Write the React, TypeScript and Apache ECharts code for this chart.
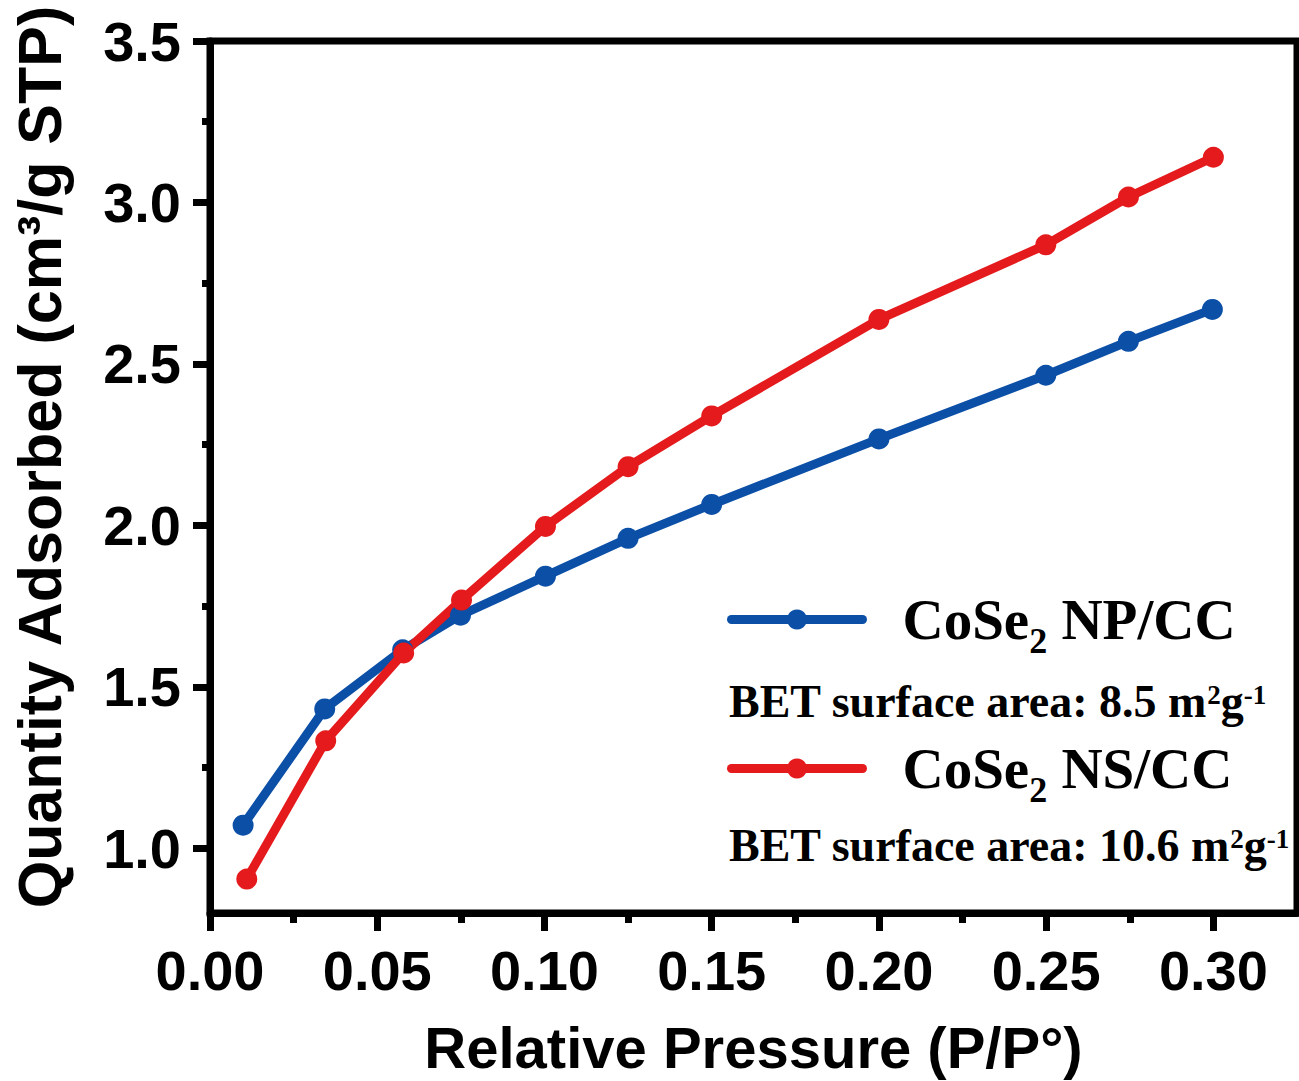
import React, { useEffect, useRef } from "react";
import * as echarts from "echarts";

const seriesNames = ["CoSe2 NP/CC", "CoSe2 NS/CC"];
const npX = [0.0099, 0.0343, 0.0576, 0.0749, 0.1003, 0.125, 0.15, 0.2, 0.2499, 0.2746, 0.2997];
const npY = [1.072, 1.432, 1.615, 1.722, 1.843, 1.960, 2.065, 2.268, 2.465, 2.570, 2.669];
const nsX = [0.011, 0.0346, 0.0579, 0.0752, 0.1003, 0.125, 0.15, 0.2, 0.2499, 0.2746, 0.3];
const nsY = [0.905, 1.333, 1.605, 1.769, 1.997, 2.182, 2.339, 2.638, 2.869, 3.017, 3.140];
const xMajorTicks = [0, 0.05, 0.1, 0.15, 0.2, 0.25, 0.3];
const xMinorTicks = [0.025, 0.075, 0.125, 0.175, 0.225, 0.275];
const yMajorTicks = [1.0, 1.5, 2.0, 2.5, 3.0, 3.5];
const yMinorTicks = [1.25, 1.75, 2.25, 2.75, 3.25];
const betTexts = ["8.5", "10.6"];
const colors = ["#0b4fa7", "#e41a1c"];

const SANS = "Liberation Sans, Arial, sans-serif";
const SERIF = "Liberation Serif, Times New Roman, serif";

export default function App() {
  const ref = useRef<HTMLDivElement>(null);
  useEffect(() => {
    document.body.style.margin = "0";
    const chart = echarts.init(ref.current!, undefined, { renderer: "svg" });
    const axisLine = { show: true, lineStyle: { color: "#000", width: 7 } };
    const labelFont = { fontFamily: SANS, fontWeight: "bold" as const, fontSize: 56, color: "#000" };
    const legendRich = {
      g: { width: 35, fontSize: 20 },
      m: { fontFamily: SERIF, fontWeight: "bold", fontSize: 57, lineHeight: 70, color: "#000" },
      s: { fontFamily: SERIF, fontWeight: "bold", fontSize: 36, lineHeight: 27, height: 27, verticalAlign: "bottom", color: "#000" },
    };
    const betRich = {
      t: { fontFamily: SERIF, fontWeight: "bold", fontSize: 46, lineHeight: 50, fill: "#000" },
      p: { fontFamily: SERIF, fontWeight: "bold", fontSize: 27, lineHeight: 38, height: 38, verticalAlign: "top", fill: "#000" },
    };
    const option: any = {
      animation: false,
      backgroundColor: "#ffffff",
      grid: {
        left: 210, right: 2, top: 41, bottom: 166,
        show: true, borderColor: "#000", borderWidth: 7, backgroundColor: "transparent",
      },
      xAxis: [
        {
          type: "value", min: 0, max: 0.325, position: "bottom",
          name: "Relative Pressure (P/P°)", nameLocation: "middle", nameGap: 105,
          nameTextStyle: { fontFamily: SANS, fontWeight: "bold", fontSize: 58, color: "#000" },
          axisLine,
          axisTick: { show: true, customValues: xMajorTicks, length: 18, lineStyle: { color: "#000", width: 7 } },
          axisLabel: { ...labelFont, customValues: xMajorTicks, margin: 29, formatter: (v: number) => v.toFixed(2) },
          splitLine: { show: false },
        },
        {
          type: "value", min: 0, max: 0.325, position: "bottom",
          axisLine: { show: false },
          axisTick: { show: true, customValues: xMinorTicks, length: 10, lineStyle: { color: "#000", width: 7 } },
          axisLabel: { show: false },
          splitLine: { show: false },
        },
      ],
      yAxis: [
        {
          type: "value", min: 0.8, max: 3.5, position: "left",
          name: "Quantity Adsorbed (cm³/g STP)", nameLocation: "middle", nameGap: 140,
          nameTextStyle: { fontFamily: SANS, fontWeight: "bold", fontSize: 61, color: "#000", padding: [0, 0, 0, 40] },
          axisLine,
          axisTick: { show: true, customValues: yMajorTicks, length: 17, lineStyle: { color: "#000", width: 7 } },
          axisLabel: { ...labelFont, customValues: yMajorTicks, margin: 29, formatter: (v: number) => v.toFixed(1) },
          splitLine: { show: false },
        },
        {
          type: "value", min: 0.8, max: 3.5, position: "left",
          axisLine: { show: false },
          axisTick: { show: true, customValues: yMinorTicks, length: 8, lineStyle: { color: "#000", width: 7 } },
          axisLabel: { show: false },
          splitLine: { show: false },
        },
      ],
      legend: {
        orient: "vertical", left: 727, top: 591, padding: 0, itemGap: 81,
        itemWidth: 131, itemHeight: 25, selectedMode: false,
        data: seriesNames,
        lineStyle: { width: 9, cap: "round" },
        formatter: (name: string) => `{g| }{m|CoSe}{s|2}{m| ${name.split(" ")[1]}}`,
        textStyle: { rich: legendRich },
      },
      graphic: betTexts.map((v, i) => ({
        type: "text",
        x: 729,
        y: i === 0 ? 701 : 845,
        style: {
          text: `{t|BET surface area: ${v} m}{p|2}{t|g}{p|-1}`,
          rich: betRich,
          verticalAlign: "middle",
          align: "left",
          fill: "#000",
        },
      })),
      series: [
        {
          name: seriesNames[0], type: "line",
          data: npX.map((x, i) => [x, npY[i]]),
          symbol: "circle", symbolSize: 21,
          lineStyle: { width: 9, color: colors[0] },
          itemStyle: { color: colors[0] },
        },
        {
          name: seriesNames[1], type: "line",
          data: nsX.map((x, i) => [x, nsY[i]]),
          symbol: "circle", symbolSize: 21,
          lineStyle: { width: 9, color: colors[1] },
          itemStyle: { color: colors[1] },
        },
      ],
    };
    chart.setOption(option);
    return () => chart.dispose();
  }, []);
  return <div ref={ref} style={{ width: 1299, height: 1081 }} />;
}
